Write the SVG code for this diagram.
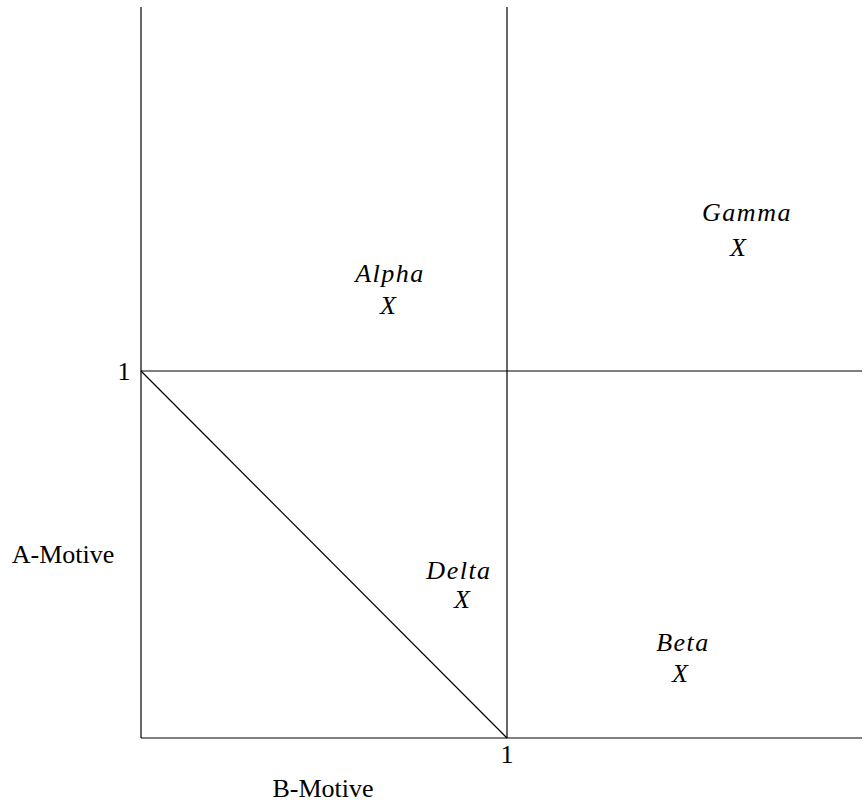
<svg xmlns="http://www.w3.org/2000/svg" width="863" height="805" viewBox="0 0 863 805">
<style>
.ln{stroke:#000;stroke-width:1.2;fill:none}
.t{font-family:"Liberation Serif","DejaVu Serif",serif;font-size:26px;fill:#000;text-anchor:middle}
.i{font-style:italic}
.w{letter-spacing:1.5px}
</style>
<rect width="863" height="805" fill="#fff"/>
<g id="connectors">
<line class="ln" x1="141" y1="7" x2="141" y2="738"/>
<line class="ln" x1="141" y1="738" x2="862" y2="738"/>
<line class="ln" x1="507" y1="7" x2="507" y2="738"/>
<line class="ln" x1="141" y1="371" x2="862" y2="371"/>
<line class="ln" x1="141" y1="371" x2="507" y2="738"/>
</g>
<g id="axis-labels">
<text class="t" x="124" y="380">1</text>
<text class="t" x="507" y="763">1</text>
<text class="t" x="63" y="563">A-Motive</text>
<text class="t" x="323" y="797">B-Motive</text>
</g>
<g id="alpha"><text class="t i w" x="390" y="282">Alpha</text><text class="t i" x="388" y="314">X</text></g>
<g id="gamma"><text class="t i w" x="747" y="221">Gamma</text><text class="t i" x="738" y="256">X</text></g>
<g id="delta"><text class="t i w" x="459" y="579">Delta</text><text class="t i" x="462" y="608">X</text></g>
<g id="beta"><text class="t i w" x="683" y="651">Beta</text><text class="t i" x="680" y="682">X</text></g>
</svg>
